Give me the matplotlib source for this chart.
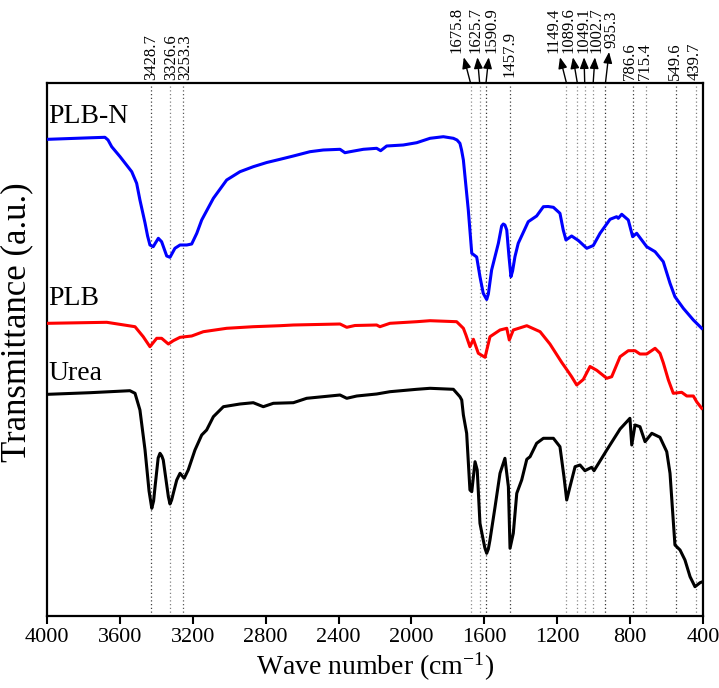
import matplotlib
matplotlib.use("Agg")
import matplotlib.pyplot as plt

plt.rcParams['font.family'] = ['Liberation Serif', 'DejaVu Serif']
plt.rcParams['mathtext.fontset'] = 'custom'
plt.rcParams['mathtext.rm'] = 'Liberation Serif'
plt.rcParams['mathtext.it'] = 'Liberation Serif:italic'

# ---- data (wavenumber in cm^-1, transmittance in arbitrary units) ----
wn_plbn = [3993, 3764, 3682, 3665, 3645, 3599, 3535, 3508, 3490, 3462, 3448, 3435, 3417, 3405, 3389,
           3371, 3343, 3325, 3298, 3270, 3233, 3206, 3178, 3151, 3087, 3014, 2941, 2868, 2794,
           2721, 2648, 2557, 2484, 2392, 2365, 2337, 2264, 2191, 2169, 2136, 2045, 1971, 1898,
           1825, 1770, 1750, 1734, 1725, 1715, 1706, 1688, 1669, 1642, 1624, 1606, 1595, 1587,
           1578, 1560, 1523, 1505, 1496, 1487, 1477, 1465, 1454, 1445, 1432, 1414, 1359, 1313,
           1276, 1250, 1221, 1185, 1167, 1152, 1121, 1084, 1038, 1002, 965, 910, 874, 865, 846,
           810, 786, 764, 709, 663, 618, 581, 554, 508, 453, 407]
t_plbn = [476.7, 478.2, 478.7, 476, 469.3, 459.3, 444.3, 432.7, 416, 393, 380, 371, 369.3, 373, 377.7,
          374.3, 360, 358.7, 367.7, 371, 371, 372, 382.7, 396, 417.7, 436, 444.3, 449.3, 453.5,
          456.7, 460, 464.3, 466, 466.7, 463.3, 464.3, 466.7, 467.7, 465.3, 470, 471, 473.3, 477.7,
          479.3, 477.7, 476, 472.7, 466, 456, 439.3, 406, 362.7, 359, 339.3, 322.7, 319, 316.5,
          322, 346, 372.7, 390, 392, 391, 386, 360, 339.3, 345, 359.3, 372.7, 394.3, 400,
          409.3, 409.5, 408.7, 402.7, 386, 376, 380, 375.5, 367.7, 370.5, 382.7, 396.7, 399.3, 397.7, 401.7,
          396, 379.3, 382.7, 369.3, 364.3, 354.3, 332.7, 319.3, 307.7, 296, 287.7]

wn_plb = [3993, 3672, 3517, 3472, 3435, 3398, 3371, 3334, 3307, 3270, 3206, 3142, 3014, 2868,
          2721, 2648, 2392, 2355, 2310, 2191, 2173, 2118, 1971, 1898, 1752, 1715, 1701, 1679,
          1660, 1633, 1596, 1569, 1514, 1477, 1463, 1441, 1367, 1294, 1240, 1175, 1148, 1121,
          1093, 1057, 1020, 983, 928, 901, 855, 810, 773, 746, 709, 663, 636, 618, 590, 563,
          517, 489, 453, 435, 407]
t_plb = [292.7, 293.7, 289.3, 279.3, 269.3, 277.7, 277.7, 272, 275.3, 278.7, 280, 284.3, 287.7, 289.3,
         290.3, 291, 292, 288.7, 290.5, 291, 289.3, 292.7, 294.3, 295.3, 294.3, 287.7, 281, 269.3,
         276.7, 262.7, 258.7, 279.3, 286, 287.7, 276, 286, 290.3, 284.3, 272, 253.5, 246.5, 239.3,
         231, 236.5, 249.5, 245.7, 237.7, 239.3, 259.3, 265.3, 265.3, 262, 262, 267.7, 262.7, 253.3, 236, 222.7,
         223.7, 220, 220, 214.3, 207.7]

wn_urea = [3993, 3764, 3545, 3517, 3490, 3462, 3440, 3425, 3415, 3407, 3390, 3380, 3370, 3362,
           3334, 3325, 3316, 3305, 3288, 3270, 3247, 3225, 3188, 3151, 3124, 3087, 3032, 2941,
           2868, 2813, 2758, 2648, 2575, 2392, 2355, 2300, 2191, 2118, 1971, 1898, 1770, 1734,
           1724, 1715, 1697, 1679, 1669, 1651, 1639, 1624, 1606, 1597, 1587, 1578, 1569, 1541,
           1514, 1487, 1468, 1459, 1441, 1422, 1395, 1367, 1349, 1313, 1276, 1221, 1185, 1163,
           1148, 1130, 1102, 1075, 1048, 1011, 998, 928, 855, 801, 791, 773, 746, 718, 681, 636,
           599, 581, 566, 554, 526, 499, 471, 444, 416, 402]
t_urea = [221.7, 223.3, 225.3, 222.7, 206, 166, 125, 107.7, 115, 129.3, 158, 162.7, 160, 156,
          119.3, 112, 116, 124, 136, 142.7, 137.7, 146, 166, 181, 186, 199.3, 209.3, 212,
          213.3, 209.3, 212.7, 213.3, 217.7, 221, 217.7, 220, 222, 224.3, 226.7, 227.7, 226.7, 219.3,
          216, 201, 182.7, 126, 124.3, 154.3, 146, 92.7, 76, 68, 62.7, 67, 76, 109.3,
          142.7, 157.7, 129.3, 67.7, 82.7, 122.7, 136, 156.7, 159.3, 172.7, 177.7, 177.7, 169.3, 139.3,
          116, 129.3, 149.3, 151, 145.3, 148.7, 145.3, 166, 187, 197.7, 171, 191, 189.3, 174.3, 182.7, 178.7,
          164.3, 142.7, 102.7, 71, 66, 56, 39.3, 29.3, 33.3, 34.3]

series_names = ["PLB-N", "PLB", "Urea"]
series_colors = ["#0000FF", "#FF0000", "#000000"]
label_levels = [493, 311, 236]

peak_positions = [3428.7, 3326.6, 3253.3, 1675.8, 1625.7, 1590.9, 1457.9, 1149.4, 1089.6,
                  1049.1, 1002.7, 935.3, 786.6, 715.4, 549.6, 439.7]
peak_labels = ["3428.7", "3326.6", "3253.3", "1675.8", "1625.7", "1590.9", "1457.9", "1149.4",
               "1089.6", "1049.1", "1002.7", "935.3", "786.6", "715.4", "549.6", "439.7"]
peak_text_x = [3428.7, 3320, 3243, 1752, 1651, 1560, 1462, 1222, 1139, 1057, 983, 901,
               800, 720, 555, 445]
peak_text_y = [1.005, 1.005, 1.005, 1.056, 1.056, 1.056, 1.012, 1.056, 1.056, 1.056, 1.056, 1.066,
               1.006, 1.006, 1.006, 1.006]
peak_arrow = [False, False, False, True, True, True, False, True, True, True, True, True,
              False, False, False, False]
peak_line_colors = ["0.25", "0.5", "0.35", "0.55", "0.55", "0.2", "0.25", "0.55", "0.55",
                    "0.55", "0.55", "0.2", "0.25", "0.5", "0.25", "0.5"]

xticks = [4000, 3600, 3200, 2800, 2400, 2000, 1600, 1200, 800, 400]

# ---- figure ----
fig = plt.figure(figsize=(7.19, 6.88), dpi=100)
ax = fig.add_axes([47 / 719, 1 - 616 / 688, (703 - 47) / 719, (616 - 83) / 688])

for p, c in zip(peak_positions, peak_line_colors):
    ax.axvline(p, color=c, linestyle=(0, (1, 2)), linewidth=0.9, zorder=1)

for wn, t, c in zip([wn_plbn, wn_plb, wn_urea], [t_plbn, t_plb, t_urea], series_colors):
    ax.plot(wn, t, color=c, linewidth=2.2, zorder=3, solid_joinstyle='round')

for name, lvl in zip(series_names, label_levels):
    ax.text(3992, lvl, name, fontsize=20, ha='left', va='baseline', zorder=4)

for p, lab, tx, ty, arr in zip(peak_positions, peak_labels, peak_text_x, peak_text_y, peak_arrow):
    kw = {}
    if arr:
        kw['arrowprops'] = dict(arrowstyle='<|-,head_length=0.55,head_width=0.22', color='black',
                                lw=1.0, shrinkA=1, shrinkB=0)
    ax.annotate(lab, xy=(p, 1.0), xycoords=('data', 'axes fraction'),
                xytext=(tx, ty), textcoords=('data', 'axes fraction'),
                rotation=90, ha='center', va='bottom', fontsize=12,
                annotation_clip=False, **kw)

ax.set_xlim(4000, 400)
ax.set_ylim(0, 533)
ax.set_xticks(xticks)
ax.set_xticklabels([str(v) for v in xticks])
ax.set_yticks([])
ax.tick_params(axis='x', direction='out', length=6, width=1.5, labelsize=16, pad=3)
for s in ax.spines.values():
    s.set_linewidth(1.6)

ax.set_xlabel("Wave number (cm$^{-1}$)", fontsize=20, labelpad=2)
ax.set_ylabel("Transmittance (a.u.)", fontsize=25)
ax.yaxis.set_label_coords(-0.021, 0.552)

fig.savefig("out.png", dpi=100)
